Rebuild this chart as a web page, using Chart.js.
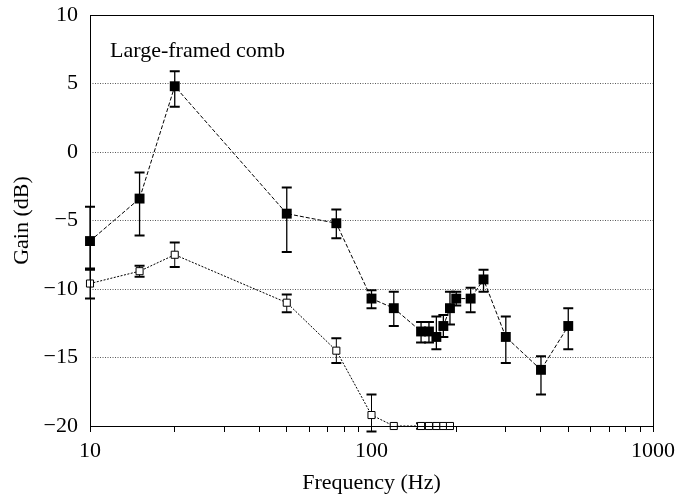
<!DOCTYPE html>
<html>
<head>
<meta charset="utf-8">
<script src="https://cdn.jsdelivr.net/npm/chart.js@4/dist/chart.umd.min.js"></script>
<style>
  html, body { margin: 0; padding: 0; background: #fff; }
  #wrap { width: 681px; height: 496px; }
</style>
</head>
<body>
<div id="wrap"><canvas id="c" width="681" height="496"></canvas></div>
<script>
// ---- data ----
const freqFilled  = [10, 15, 20, 50, 75, 100, 120, 150, 160, 170, 180, 190, 200, 225, 250, 300, 400, 500];
const gainFilled  = [-6.5, -3.4, 4.8, -4.5, -5.2, -10.7, -11.4, -13.1, -13.1, -13.5, -12.7, -11.4, -10.7, -10.7, -9.3, -13.5, -15.9, -12.7];
const upperFilled = [-4.0, -1.5, 5.9, -2.6, -4.2, -10.1, -10.2, -12.4, -12.4, -12.0, -11.9, -10.2, -10.2, -9.9, -8.6, -12.0, -14.9, -11.4];
const lowerFilled = [-8.5, -6.1, 3.3, -7.3, -6.3, -11.4, -12.7, -13.9, -13.9, -14.4, -13.5, -12.6, -11.2, -11.7, -10.2, -15.4, -17.7, -14.4];

const freqOpen  = [10, 15, 20, 50, 75, 100, 120, 150, 160, 170, 180, 190];
const gainOpen  = [-9.6, -8.7, -7.5, -11.0, -14.5, -19.2, -20, -20, -20, -20, -20, -20];
const upperOpen = [-8.6, -8.3, -6.6, -10.4, -13.6, -17.7, -20, -19.8, -20, -20, -20, -20];
const lowerOpen = [-10.7, -9.1, -8.4, -11.7, -15.4, -20.4, -20, -20.2, -20, -20, -20, -20];

const xTickValues  = [10, 20, 30, 40, 50, 60, 70, 80, 90, 100, 200, 300, 400, 500, 600, 700, 800, 900, 1000];
const xLabelValues = [10, 100, 1000];
const yTickValues  = [-20, -15, -10, -5, 0, 5, 10];

const annotationText = 'Large-framed comb';
const xTitle = 'Frequency (Hz)';
const yTitle = 'Gain (dB)';

// ---- helpers ----
const toPoints = (xs, ys) => xs.map((x, i) => ({ x: x, y: ys[i] }));
const FONT = 'Liberation Serif, Times New Roman, serif';
const FS = 22;

const errorBarPlugin = {
  id: 'errorBars',
  beforeDatasetsDraw(chart) {
    const ctx = chart.ctx;
    const xs = chart.scales.x, ys = chart.scales.y;
    chart.data.datasets.forEach(ds => {
      if (!ds.errHigh) return;
      ctx.save();
      ctx.strokeStyle = '#000';
      ds.data.forEach((p, i) => {
        const px = xs.getPixelForValue(p.x);
        const yh = ys.getPixelForValue(ds.errHigh[i]);
        const yl = ys.getPixelForValue(ds.errLow[i]);
        if (Math.abs(yl - yh) < 1) return;
        const half = ds.capHalf;
        ctx.lineWidth = ds.errLineWidth;
        ctx.beginPath();
        ctx.moveTo(px, yh); ctx.lineTo(px, yl);
        ctx.stroke();
        ctx.lineWidth = ds.capWidth;
        ctx.beginPath();
        ctx.moveTo(px - half, yh); ctx.lineTo(px + half, yh);
        ctx.moveTo(px - half, yl); ctx.lineTo(px + half, yl);
        ctx.stroke();
      });
      ctx.restore();
    });
  }
};

const framePlugin = {
  id: 'frame',
  afterDatasetsDraw(chart) {
    const { ctx, chartArea: a } = chart;
    ctx.save();
    ctx.strokeStyle = '#000';
    ctx.lineWidth = 1;
    ctx.strokeRect(Math.round(a.left) + 0.5, Math.round(a.top) + 0.5,
                   Math.round(a.right - a.left), Math.round(a.bottom - a.top));
    ctx.fillStyle = '#000';
    ctx.font = FS + 'px ' + FONT;
    ctx.textBaseline = 'alphabetic';
    ctx.textAlign = 'left';
    ctx.fillText(annotationText, a.left + 20, a.top + 42);
    ctx.restore();
  }
};

const cfg = {
  type: 'scatter',
  data: {
    datasets: [
      {
        label: 'filled',
        data: toPoints(freqFilled, gainFilled),
        errHigh: upperFilled, errLow: lowerFilled,
        capHalf: 5, capWidth: 2, errLineWidth: 1.3,
        showLine: true,
        borderColor: '#000',
        borderWidth: 1,
        borderDash: [4, 2],
        pointStyle: 'rect',
        pointRadius: 7,
        pointHoverRadius: 7,
        pointBackgroundColor: '#000',
        pointBorderColor: '#000',
        pointBorderWidth: 0,
        clip: false
      },
      {
        label: 'open',
        data: toPoints(freqOpen, gainOpen),
        errHigh: upperOpen, errLow: lowerOpen,
        capHalf: 5, capWidth: 2, errLineWidth: 1,
        showLine: true,
        borderColor: '#000',
        borderWidth: 1,
        borderDash: [2, 1.5],
        pointStyle: 'rect',
        pointRadius: 5,
        pointHoverRadius: 5,
        pointBackgroundColor: '#fff',
        pointBorderColor: '#000',
        pointBorderWidth: 1,
        clip: false
      }
    ]
  },
  options: {
    responsive: false,
    animation: false,
    events: [],
    layout: { padding: { left: 9, right: 28, top: 15, bottom: 0 } },
    plugins: {
      legend: { display: false },
      tooltip: { enabled: false }
    },
    scales: {
      x: {
        type: 'logarithmic',
        min: 10, max: 1000,
        afterBuildTicks(axis) { axis.ticks = xTickValues.map(v => ({ value: v })); },
        afterFit(axis) { axis.height = 70; axis.paddingLeft = 0; axis.paddingRight = 0; },
        border: { display: false },
        grid: { drawOnChartArea: false, drawTicks: true, tickLength: 6, color: '#000', lineWidth: 1 },
        ticks: {
          autoSkip: false, maxRotation: 0, padding: 6,
          color: '#000',
          font: { family: FONT, size: FS },
          callback: (v) => xLabelValues.includes(v) ? String(v) : ''
        },
        title: {
          display: true, text: xTitle, color: '#000',
          font: { family: FONT, size: FS },
          padding: { top: 0, bottom: 0 }
        }
      },
      y: {
        min: -20, max: 10,
        afterBuildTicks(axis) { axis.ticks = yTickValues.map(v => ({ value: v })); },
        afterFit(axis) { axis.width = 81; axis.paddingTop = 0; axis.paddingBottom = 0; },
        border: { display: false, dash: [1, 1.5] },
        grid: {
          drawTicks: false,
          tickLength: 0,
          color: (c) => (c.tick && (c.tick.value === 10 || c.tick.value === -20)) ? 'rgba(0,0,0,0)' : 'rgba(0,0,0,0.65)',
          lineWidth: 1
        },
        ticks: {
          padding: 12,
          color: '#000',
          font: { family: FONT, size: FS },
          callback: (v) => v < 0 ? '\u2212' + Math.abs(v) : String(v)
        },
        title: {
          display: true, text: yTitle, color: '#000',
          font: { family: FONT, size: FS },
          padding: { top: 0, bottom: 0 }
        }
      }
    }
  },
  plugins: [errorBarPlugin, framePlugin]
};

new Chart(document.getElementById('c'), cfg);
</script>
</body>
</html>
